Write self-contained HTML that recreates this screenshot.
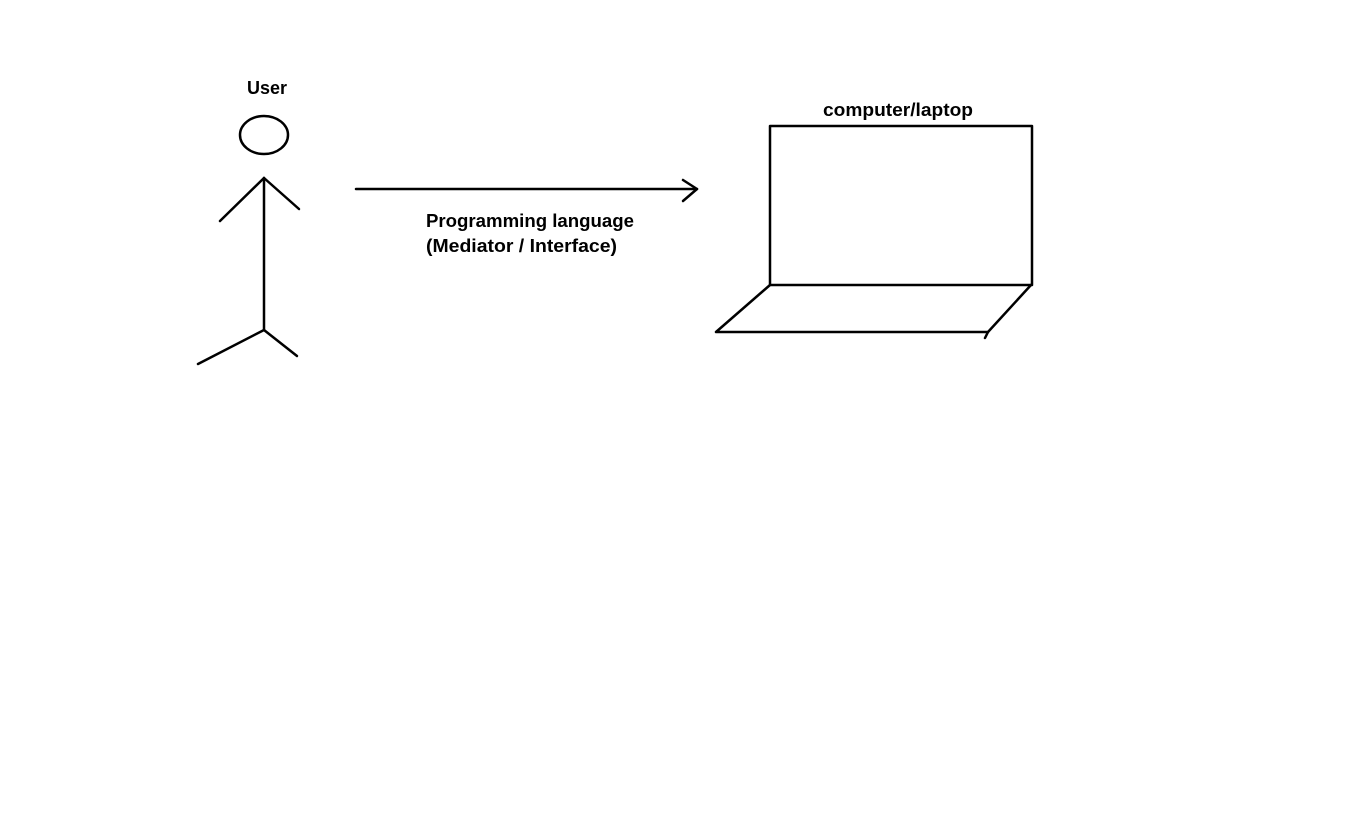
<!DOCTYPE html>
<html><head><meta charset="utf-8"><style>
html,body{margin:0;padding:0;background:#fff;width:1358px;height:831px;overflow:hidden}
text{font-family:"Liberation Sans",sans-serif;font-weight:bold;font-size:18px;fill:#000}
</style></head><body>
<svg width="1358" height="831" viewBox="0 0 1358 831" xmlns="http://www.w3.org/2000/svg">
<g stroke="#000" stroke-width="2.5" fill="none" stroke-linecap="round" stroke-linejoin="round">
<ellipse cx="264" cy="135" rx="24" ry="19"/>
<line x1="264" y1="178" x2="264" y2="330"/>
<line x1="264" y1="178" x2="220" y2="221"/>
<line x1="264" y1="178" x2="299" y2="209"/>
<line x1="264" y1="330" x2="198" y2="364"/>
<line x1="264" y1="330" x2="297" y2="356"/>
<line x1="356" y1="189" x2="697" y2="189"/>
<polyline points="683,180 697,189 683,201"/>
<rect x="770" y="126" width="262" height="159"/>
<polyline points="770,285 716,332 988,332 1031,285"/>
<line x1="988" y1="332" x2="985" y2="338"/>
</g>
<text x="247" y="94" textLength="40" lengthAdjust="spacingAndGlyphs">User</text>
<text x="823" y="116" textLength="150" lengthAdjust="spacingAndGlyphs">computer/laptop</text>
<text x="426" y="227" textLength="208" lengthAdjust="spacingAndGlyphs">Programming language</text>
<text x="426" y="252" textLength="191" lengthAdjust="spacingAndGlyphs">(Mediator / Interface)</text>
</svg>
</body></html>
